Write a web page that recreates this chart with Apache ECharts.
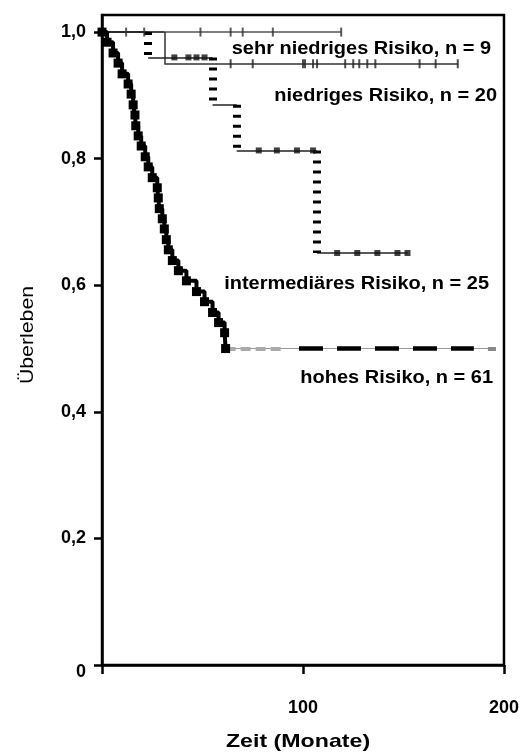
<!DOCTYPE html>
<html><head><meta charset="utf-8">
<script src="https://cdn.jsdelivr.net/npm/echarts@6/dist/echarts.min.js"></script>
<style>html,body{margin:0;padding:0;background:#fff}#c{width:522px;height:753px}</style>
</head><body><div id="c"></div>
<script>
// ---- axes ----
const xTicks = [0, 100, 200];
const xTickLabels = ['', '100', '200'];
const yTicks = [0, 0.2, 0.4, 0.6, 0.8, 1.0];
const yTickLabels = ['0', '0,2', '0,4', '0,6', '0,8', '1,0'];

// ---- step functions: start time of each level, level ----
const sehrTimes = [0, 119];
const sehrSurv = [1.0, 1.0];
const sehrCensor = [12, 21, 49, 64, 70, 85, 119];

const niedTimes = [0, 31, 177];
const niedSurv = [1.0, 0.95, 0.95];
const niedCensor = [64, 75, 100, 101, 105, 107, 121, 125, 128, 132, 136, 158, 166, 177];

const intTimes = [0, 23, 55, 67, 107, 152];
const intSurv = [1.0, 0.96, 0.885, 0.813, 0.651, 0.651];
const intCensor = [36, 43, 47, 51, 78, 87, 97, 105, 117, 127, 137, 147, 152];

const hohTimes = [0, 2.5, 5.5, 8, 10, 13, 14.5, 15.5, 16.4, 16.8, 18, 19.5, 21.5, 23, 25, 27.5, 28, 28.5, 30, 31, 32, 33, 35, 38, 42, 47, 51, 55, 58, 61, 61.5];
const hohSurv  = [1.0, 0.984, 0.967, 0.951, 0.934, 0.918, 0.902, 0.885, 0.869, 0.852, 0.836, 0.820, 0.803, 0.787, 0.770, 0.754, 0.738, 0.721, 0.705, 0.689, 0.672, 0.656, 0.639, 0.623, 0.607, 0.590, 0.574, 0.557, 0.541, 0.525, 0.500];
const hohTailEnd = 196;
const hohTailDarkFrom = 98, hohTailDarkTo = 185;
const hohTailGreyTo = 90;

const names = ['sehr niedriges Risiko, n = 9', 'niedriges Risiko, n = 20', 'intermediäres Risiko, n = 25', 'hohes Risiko, n = 61'];

function levelAt(times, surv, t) {
  let s = surv[0];
  for (let i = 0; i < times.length; i++) if (times[i] <= t) s = surv[i];
  return s;
}
function horiz(times, surv) {
  const out = [];
  for (let i = 0; i < times.length - 1; i++) out.push({coords: [[times[i], surv[i]], [times[i + 1], surv[i]]]});
  return out;
}
function vert(times, surv) {
  const out = [];
  for (let i = 0; i < times.length - 1; i++) if (surv[i + 1] !== surv[i]) out.push({coords: [[times[i + 1], surv[i]], [times[i + 1], surv[i + 1]]]});
  return out;
}
function censor(times, surv, cs) { return cs.map(t => [t, levelAt(times, surv, t)]); }

const FONT = '"Liberation Sans", Arial, sans-serif';
const chart = echarts.init(document.getElementById('c'), null, {renderer: 'canvas'});
const hohLast = hohSurv[hohSurv.length - 1];

chart.setOption({
  animation: false,
  backgroundColor: '#fff',
  grid: {left: 102, right: 18, top: 15, bottom: 88, show: true, borderColor: '#000', borderWidth: 2.5, backgroundColor: 'transparent'},
  xAxis: {
    type: 'value', min: 0, max: 200, interval: 100,
    splitLine: {show: false},
    axisLine: {lineStyle: {color: '#000', width: 2.5}},
    axisTick: {length: 9, lineStyle: {color: '#000', width: 2.5}},
    axisLabel: {margin: 34, color: '#000', fontFamily: FONT, fontWeight: 'bold', fontSize: 18,
      formatter: v => xTickLabels[xTicks.indexOf(v)] ?? ''}
  },
  yAxis: {
    type: 'value', min: 0, max: 1.027,
    splitLine: {show: false},
    axisLine: {lineStyle: {color: '#000', width: 2.5}},
    axisTick: {length: 8, customValues: yTicks, lineStyle: {color: '#000', width: 2.5}},
    axisLabel: {margin: 16, customValues: yTicks, color: '#000', fontFamily: FONT, fontWeight: 'bold', fontSize: 18,
      rich: {z: {fontFamily: FONT, fontWeight: 'bold', fontSize: 18, color: '#000', padding: [14, 0, 0, 0]}},
      formatter: v => { let k = 0; yTicks.forEach((t, i) => { if (Math.abs(t - v) < 1e-6) k = i; }); return k === 0 ? '{z|' + yTickLabels[k] + '}' : yTickLabels[k]; }}
  },
  series: [
    // sehr niedriges
    {type: 'lines', coordinateSystem: 'cartesian2d', name: names[0], z: 3,
      lineStyle: {color: '#555', width: 1.5, opacity: 1}, data: horiz(sehrTimes, sehrSurv)},
    {type: 'scatter', z: 4, symbol: 'rect', symbolSize: [2, 9], itemStyle: {color: '#333'}, data: censor(sehrTimes, sehrSurv, sehrCensor)},
    // niedriges
    {type: 'lines', coordinateSystem: 'cartesian2d', name: names[1], z: 3,
      lineStyle: {color: '#333', width: 1.5, opacity: 1}, data: horiz(niedTimes, niedSurv).concat(vert(niedTimes, niedSurv))},
    {type: 'scatter', z: 4, symbol: 'rect', symbolSize: [2, 9], itemStyle: {color: '#222'}, data: censor(niedTimes, niedSurv, niedCensor)},
    // intermediäres
    {type: 'lines', coordinateSystem: 'cartesian2d', name: names[2], z: 3,
      lineStyle: {color: '#222', width: 1.5, opacity: 1}, data: horiz(intTimes, intSurv)},
    {type: 'lines', coordinateSystem: 'cartesian2d', z: 3,
      lineStyle: {color: '#000', width: 8, type: [3, 7], opacity: 1}, data: vert(intTimes, intSurv)},
    {type: 'scatter', z: 4, symbol: 'rect', symbolSize: [6, 6], itemStyle: {color: '#111'}, data: censor(intTimes, intSurv, intCensor)},
    // hohes
    {type: 'line', name: names[3], z: 5, step: 'end', showSymbol: true, showAllSymbol: true,
      symbol: 'rect', symbolSize: 9, itemStyle: {color: '#000'}, lineStyle: {color: '#000', width: 4},
      data: hohTimes.map((t, i) => [t, hohSurv[i]])},
    {type: 'lines', coordinateSystem: 'cartesian2d', z: 3,
      lineStyle: {color: '#999', width: 1, opacity: 1}, data: [{coords: [[hohTimes[hohTimes.length - 1], hohLast], [hohTailEnd, hohLast]]}]},
    {type: 'lines', coordinateSystem: 'cartesian2d', z: 3,
      lineStyle: {color: '#aaa', width: 4, type: [10, 5], opacity: 1}, data: [{coords: [[hohTimes[hohTimes.length - 1], hohLast], [hohTailGreyTo, hohLast]]}]},
    {type: 'lines', coordinateSystem: 'cartesian2d', z: 3,
      lineStyle: {color: '#000', width: 4.5, type: [24, 14], opacity: 1}, data: [{coords: [[hohTailDarkFrom, hohLast], [hohTailDarkTo, hohLast]]}]},
    {type: 'lines', coordinateSystem: 'cartesian2d', z: 3,
      lineStyle: {color: '#888', width: 4, opacity: 1}, data: [{coords: [[192, hohLast], [hohTailEnd, hohLast]]}]}
  ],
  graphic: [
    {type: 'text', x: 491, y: 49, scaleX: 1.11, style: {text: names[0], font: 'bold 18px ' + FONT, fill: '#000', align: 'right', verticalAlign: 'middle'}},
    {type: 'text', x: 497, y: 96, scaleX: 1.11, style: {text: names[1], font: 'bold 18px ' + FONT, fill: '#000', align: 'right', verticalAlign: 'middle'}},
    {type: 'text', x: 489, y: 284, scaleX: 1.11, style: {text: names[2], font: 'bold 18px ' + FONT, fill: '#000', align: 'right', verticalAlign: 'middle'}},
    {type: 'text', x: 493, y: 378, scaleX: 1.11, style: {text: names[3], font: 'bold 18px ' + FONT, fill: '#000', align: 'right', verticalAlign: 'middle'}},
    {type: 'text', x: 298, y: 742, scaleX: 1.22, style: {text: 'Zeit (Monate)', font: 'bold 19px ' + FONT, fill: '#000', align: 'center', verticalAlign: 'middle'}},
    {type: 'text', x: 28, y: 335, rotation: Math.PI / 2, scaleX: 1.12, style: {text: 'Überleben', font: '19px ' + FONT, fill: '#000', align: 'center', verticalAlign: 'middle'}}
  ]
});
</script></body></html>
